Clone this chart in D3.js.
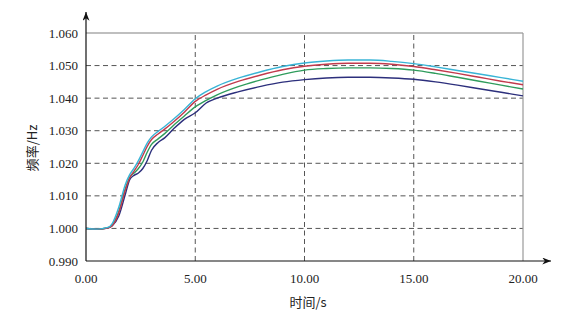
<!DOCTYPE html>
<html lang="zh">
<head>
<meta charset="UTF-8">
<title>频率曲线</title>
<script src="https://d3js.org/d3.v7.min.js"></script>
<style>
    body { margin: 0; background: #fff; }
    .num { font-family: "Liberation Serif", "DejaVu Serif", serif; }
    .cjk { font-family: "Noto Sans CJK SC", sans-serif; }
</style>
</head>
<body>
<svg id="chart" width="570" height="320"></svg>
<script>
// time axis (s)
const times = [0, 0.5, 1.0, 1.2, 1.5, 1.8, 2.0, 2.2, 2.4, 2.6, 2.8, 3.0, 3.3, 3.6, 4.0, 4.5, 5.0, 5.5, 6.0, 7, 8, 9, 10, 11, 12, 13, 14, 15, 16, 17, 18, 19, 20];

// frequency, four cases
const cyanVals  = [1.0000, 0.9998, 1.0003, 1.0015, 1.0065, 1.0135, 1.0165, 1.0185, 1.0208, 1.0235, 1.0262, 1.0281, 1.0298, 1.0313, 1.0335, 1.0365, 1.0398, 1.0420, 1.0437, 1.0462, 1.0481, 1.0497, 1.0508, 1.0514, 1.0517, 1.0517, 1.0513, 1.0506, 1.0496, 1.0485, 1.0474, 1.0463, 1.0452];
const redVals   = [1.0000, 0.9998, 1.0001, 1.0008, 1.0048, 1.0118, 1.0155, 1.0176, 1.0197, 1.0224, 1.0252, 1.0273, 1.0290, 1.0305, 1.0327, 1.0357, 1.0390, 1.0410, 1.0427, 1.0452, 1.0471, 1.0487, 1.0498, 1.0504, 1.0507, 1.0507, 1.0504, 1.0497, 1.0487, 1.0476, 1.0464, 1.0452, 1.0441];
const greenVals = [1.0000, 0.9998, 1.0002, 1.0010, 1.0052, 1.0122, 1.0157, 1.0170, 1.0184, 1.0204, 1.0234, 1.0258, 1.0275, 1.0291, 1.0316, 1.0345, 1.0373, 1.0393, 1.0410, 1.0436, 1.0456, 1.0473, 1.0486, 1.0491, 1.0493, 1.0493, 1.0491, 1.0486, 1.0476, 1.0464, 1.0452, 1.0440, 1.0428];
const navyVals  = [1.0000, 0.9998, 1.0001, 1.0008, 1.0038, 1.0105, 1.0150, 1.0163, 1.0170, 1.0184, 1.0208, 1.0240, 1.0264, 1.0278, 1.0305, 1.0335, 1.0355, 1.0385, 1.0400, 1.0420, 1.0436, 1.0449, 1.0457, 1.0462, 1.0464, 1.0464, 1.0462, 1.0458, 1.0450, 1.0440, 1.0429, 1.0418, 1.0407];

const xTicks = [0, 5, 10, 15, 20];
const yTicks = [0.99, 1.00, 1.01, 1.02, 1.03, 1.04, 1.05, 1.06];

const series = [
    { name: "navy", values: navyVals, color: "#2c2f7c" },
    { name: "green", values: greenVals, color: "#2f9c5c" },
    { name: "red", values: redVals, color: "#c23a4c" },
    { name: "cyan", values: cyanVals, color: "#38b4d6" }
];

const svg = d3.select("#chart");
const margin = { left: 86, right: 47, top: 33, bottom: 59 };
const W = 570, H = 320;

const x = d3.scaleLinear().domain([0, 20]).range([margin.left, W - margin.right]);
const y = d3.scaleLinear().domain([0.99, 1.06]).range([H - margin.bottom, margin.top]);

// grid (dashed)
svg.append("g").selectAll("line")
    .data(yTicks.filter(d => d > 0.995 && d < 1.055))
    .join("line")
    .attr("x1", x(0)).attr("x2", x(20))
    .attr("y1", d => y(d)).attr("y2", d => y(d))
    .attr("stroke", "#555").attr("stroke-width", 1)
    .attr("stroke-dasharray", "5,3.5");

svg.append("g").selectAll("line")
    .data(xTicks.filter(d => d > 0 && d < 20))
    .join("line")
    .attr("x1", d => x(d)).attr("x2", d => x(d))
    .attr("y1", y(0.99)).attr("y2", y(1.06))
    .attr("stroke", "#555").attr("stroke-width", 1)
    .attr("stroke-dasharray", "5,3.5");

// top and right frame
svg.append("line")
    .attr("x1", x(0)).attr("x2", x(20))
    .attr("y1", y(1.06)).attr("y2", y(1.06))
    .attr("stroke", "#aaa").attr("stroke-width", 1.6);
svg.append("line")
    .attr("x1", x(20)).attr("x2", x(20))
    .attr("y1", y(1.06)).attr("y2", y(0.99))
    .attr("stroke", "#999").attr("stroke-width", 1.2);

// curves
const line = d3.line()
    .x((d, i) => x(times[i]))
    .y(d => y(d))
    .curve(d3.curveMonotoneX);

svg.append("g").selectAll("path")
    .data(series)
    .join("path")
    .attr("d", d => line(d.values))
    .attr("fill", "none")
    .attr("stroke", d => d.color)
    .attr("stroke-width", 1.4);

// axes with arrows
svg.append("defs").append("marker")
    .attr("id", "arrow")
    .attr("viewBox", "0 -4 10 8")
    .attr("refX", 10).attr("refY", 0)
    .attr("markerWidth", 9).attr("markerHeight", 7)
    .attr("markerUnits", "userSpaceOnUse")
    .attr("orient", "auto")
    .append("path")
    .attr("d", "M0,-4 L10,0 L0,4 L3,0 Z")
    .attr("fill", "#111");

svg.append("line")
    .attr("x1", x(0)).attr("x2", x(0))
    .attr("y1", y(0.99)).attr("y2", 12)
    .attr("stroke", "#111").attr("stroke-width", 1.2)
    .attr("marker-end", "url(#arrow)");
svg.append("line")
    .attr("x1", x(0)).attr("x2", 551)
    .attr("y1", y(0.99)).attr("y2", y(0.99))
    .attr("stroke", "#111").attr("stroke-width", 1.2)
    .attr("marker-end", "url(#arrow)");

// tick labels
svg.append("g").selectAll("text")
    .data(yTicks)
    .join("text")
    .attr("class", "num")
    .attr("x", x(0) - 8)
    .attr("y", d => y(d))
    .attr("dy", "0.35em")
    .attr("text-anchor", "end")
    .style("font-size", "13px")
    .attr("fill", "#222")
    .text(d => d3.format(".3f")(d));

svg.append("g").selectAll("text")
    .data(xTicks)
    .join("text")
    .attr("class", "num")
    .attr("x", d => x(d))
    .attr("y", y(0.99) + 22)
    .attr("text-anchor", "middle")
    .style("font-size", "13px")
    .attr("fill", "#222")
    .text(d => d3.format(".2f")(d));

// axis titles
svg.append("text")
    .attr("class", "cjk")
    .attr("x", 308).attr("y", 307)
    .attr("text-anchor", "middle")
    .style("font-size", "13px")
    .attr("fill", "#222")
    .text("时间/s");

svg.append("text")
    .attr("class", "cjk")
    .attr("transform", "translate(37,148) rotate(-90)")
    .attr("text-anchor", "middle")
    .style("font-size", "13px")
    .attr("fill", "#222")
    .text("频率/Hz");
</script>
</body>
</html>
